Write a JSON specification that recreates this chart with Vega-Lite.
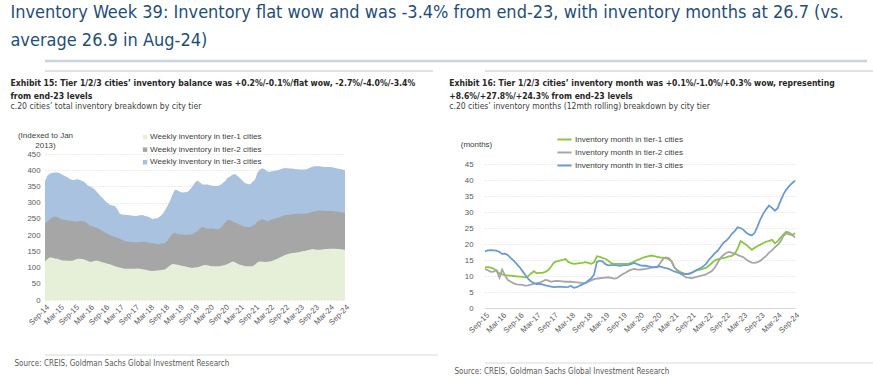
{
  "$schema": "https://vega.github.io/schema/vega-lite/v6.json",
  "padding": {"left": 10, "top": 3, "right": 0, "bottom": 0},
  "background": "white",
  "config": {
    "view": {"stroke": null},
    "font": "Liberation Sans",
    "axis": {"labelFont": "Liberation Sans", "labelFontSize": 7.8, "labelColor": "#595959", "titleFont": "Liberation Sans", "titleFontSize": 8, "titleFontWeight": "normal", "titleColor": "#404040"},
    "legend": {"labelFont": "Liberation Sans", "labelFontSize": 8.1, "labelColor": "#404040"}
  },
  "title": {
    "text": ["Inventory Week 39: Inventory flat wow and was -3.4% from end-23, with inventory months at 26.7 (vs.", "average 26.9 in Aug-24)"],
    "anchor": "start",
    "font": "Liberation Sans Narrow, DejaVu Sans Condensed, Roboto Condensed, sans-serif",
    "fontSize": 18,
    "fontWeight": "normal",
    "color": "#1f4e79",
    "lineHeight": 28,
    "offset": 10
  },
  "spacing": 7,
  "vconcat": [
    {
      "data": {"values": [{}]},
      "width": 822,
      "height": 2,
      "mark": {"type": "rule", "color": "#c8d4e0", "strokeWidth": 2.5},
      "encoding": {"y": {"datum": 1, "type": "quantitative", "scale": {"domain": [0, 1]}, "axis": null}}
    },
    {
      "spacing": 10,
      "resolve": {"scale": {"color": "independent"}, "legend": {"color": "independent"}},
      "hconcat": [
        {
          "spacing": 27,
          "resolve": {"scale": {"color": "independent"}, "legend": {"color": "independent"}},
          "vconcat": [
            {
              "spacing": 6,
              "resolve": {"scale": {"color": "independent"}, "legend": {"color": "independent"}},
              "vconcat": [
                {
                  "data": {"values": [{}]},
                  "width": 388,
                  "height": 2,
                  "mark": {"type": "rule", "color": "#c4c4c4", "strokeWidth": 1},
                  "encoding": {"y": {"datum": 1, "type": "quantitative", "scale": {"domain": [0, 1]}, "axis": null}}
                },
                {
                  "width": 300,
                  "height": 146,
                  "title": {
                    "text": ["Exhibit 15: Tier 1/2/3 cities’ inventory balance was +0.2%/-0.1%/flat wow, -2.7%/-4.0%/-3.4%", "from end-23 levels"],
                    "subtitle": "c.20 cities’ total inventory breakdown by city tier",
                    "anchor": "start",
                    "frame": "bounds",
                    "dx": -7,
                    "font": "Liberation Sans Narrow, DejaVu Sans Condensed, sans-serif",
                    "fontSize": 8.65,
                    "fontWeight": "bold",
                    "color": "#262626",
                    "lineHeight": 12.5,
                    "subtitleFont": "Liberation Sans Narrow, DejaVu Sans Condensed, sans-serif",
                    "subtitleFontSize": 8.65,
                    "subtitleColor": "#404040",
                    "subtitlePadding": 2,
                    "offset": 20
                  },
                  "data": {"values": [
{"d":"2014/09/01","a":119,"b":236,"c":366},{"d":"2014/10/01","a":126,"b":243,"c":384},{"d":"2014/11/01","a":132,"b":250,"c":390},{"d":"2014/12/01","a":130,"b":255,"c":392},
{"d":"2015/01/01","a":128,"b":257,"c":393},{"d":"2015/02/01","a":127,"b":255,"c":393},{"d":"2015/03/01","a":124,"b":251,"c":391},{"d":"2015/04/01","a":122,"b":248,"c":386},
{"d":"2015/05/01","a":122,"b":247,"c":382},{"d":"2015/06/01","a":121,"b":245,"c":378},{"d":"2015/07/01","a":121,"b":244,"c":373},{"d":"2015/08/01","a":121,"b":243,"c":370},
{"d":"2015/09/01","a":124,"b":242,"c":371},{"d":"2015/10/01","a":127,"b":242,"c":372},{"d":"2015/11/01","a":127,"b":244,"c":370},{"d":"2015/12/01","a":126,"b":243,"c":367},
{"d":"2016/01/01","a":124,"b":241,"c":362},{"d":"2016/02/01","a":121,"b":236,"c":354},{"d":"2016/03/01","a":117,"b":229,"c":350},{"d":"2016/04/01","a":119,"b":227,"c":346},
{"d":"2016/05/01","a":121,"b":224,"c":340},{"d":"2016/06/01","a":121,"b":221,"c":331},{"d":"2016/07/01","a":119,"b":218,"c":322},{"d":"2016/08/01","a":116,"b":213,"c":314},
{"d":"2016/09/01","a":114,"b":208,"c":306},{"d":"2016/10/01","a":112,"b":204,"c":299},{"d":"2016/11/01","a":110,"b":201,"c":293},{"d":"2016/12/01","a":107,"b":197,"c":291},
{"d":"2017/01/01","a":104,"b":194,"c":290},{"d":"2017/02/01","a":102,"b":192,"c":278},{"d":"2017/03/01","a":100,"b":189,"c":266},{"d":"2017/04/01","a":98,"b":185,"c":263},
{"d":"2017/05/01","a":96,"b":181,"c":263},{"d":"2017/06/01","a":96,"b":180,"c":262},{"d":"2017/07/01","a":96,"b":179,"c":261},{"d":"2017/08/01","a":96,"b":178,"c":260},
{"d":"2017/09/01","a":96,"b":178,"c":259},{"d":"2017/10/01","a":97,"b":178,"c":260},{"d":"2017/11/01","a":96,"b":178,"c":261},{"d":"2017/12/01","a":95,"b":179,"c":262},
{"d":"2018/01/01","a":94,"b":180,"c":259},{"d":"2018/02/01","a":92,"b":178,"c":257},{"d":"2018/03/01","a":90,"b":176,"c":254},{"d":"2018/04/01","a":89,"b":175,"c":250},
{"d":"2018/05/01","a":90,"b":174,"c":251},{"d":"2018/06/01","a":91,"b":172,"c":252},{"d":"2018/07/01","a":92,"b":173,"c":257},{"d":"2018/08/01","a":93,"b":174,"c":264},
{"d":"2018/09/01","a":94,"b":175,"c":277},{"d":"2018/10/01","a":100,"b":183,"c":290},{"d":"2018/11/01","a":106,"b":195,"c":305},{"d":"2018/12/01","a":111,"b":204,"c":325},
{"d":"2019/01/01","a":110,"b":207,"c":340},{"d":"2019/02/01","a":109,"b":203,"c":338},{"d":"2019/03/01","a":107,"b":202,"c":334},{"d":"2019/04/01","a":105,"b":202,"c":331},
{"d":"2019/05/01","a":104,"b":201,"c":332},{"d":"2019/06/01","a":102,"b":201,"c":333},{"d":"2019/07/01","a":100,"b":202,"c":340},{"d":"2019/08/01","a":99,"b":203,"c":350},
{"d":"2019/09/01","a":100,"b":208,"c":362},{"d":"2019/10/01","a":101,"b":213,"c":368},{"d":"2019/11/01","a":103,"b":220,"c":362},{"d":"2019/12/01","a":106,"b":226,"c":356},
{"d":"2020/01/01","a":108,"b":223,"c":356},{"d":"2020/02/01","a":107,"b":220,"c":356},{"d":"2020/03/01","a":105,"b":220,"c":354},{"d":"2020/04/01","a":104,"b":220,"c":352},
{"d":"2020/05/01","a":104,"b":219,"c":351},{"d":"2020/06/01","a":104,"b":218,"c":351},{"d":"2020/07/01","a":104,"b":220,"c":354},{"d":"2020/08/01","a":106,"b":228,"c":360},
{"d":"2020/09/01","a":108,"b":238,"c":366},{"d":"2020/10/01","a":111,"b":247,"c":376},{"d":"2020/11/01","a":115,"b":246,"c":381},{"d":"2020/12/01","a":119,"b":242,"c":386},
{"d":"2021/01/01","a":116,"b":239,"c":388},{"d":"2021/02/01","a":112,"b":235,"c":382},{"d":"2021/03/01","a":109,"b":232,"c":376},{"d":"2021/04/01","a":107,"b":228,"c":368},
{"d":"2021/05/01","a":104,"b":226,"c":361},{"d":"2021/06/01","a":104,"b":225,"c":358},{"d":"2021/07/01","a":104,"b":224,"c":356},{"d":"2021/08/01","a":104,"b":228,"c":364},
{"d":"2021/09/01","a":109,"b":232,"c":371},{"d":"2021/10/01","a":116,"b":243,"c":393},{"d":"2021/11/01","a":119,"b":246,"c":402},{"d":"2021/12/01","a":118,"b":249,"c":406},
{"d":"2022/01/01","a":117,"b":246,"c":402},{"d":"2022/02/01","a":118,"b":243,"c":396},{"d":"2022/03/01","a":119,"b":245,"c":395},{"d":"2022/04/01","a":121,"b":249,"c":397},
{"d":"2022/05/01","a":124,"b":251,"c":398},{"d":"2022/06/01","a":127,"b":253,"c":400},{"d":"2022/07/01","a":131,"b":256,"c":402},{"d":"2022/08/01","a":135,"b":259,"c":405},
{"d":"2022/09/01","a":139,"b":261,"c":407},{"d":"2022/10/01","a":141,"b":262,"c":406},{"d":"2022/11/01","a":143,"b":263,"c":405},{"d":"2022/12/01","a":145,"b":264,"c":405},
{"d":"2023/01/01","a":146,"b":265,"c":404},{"d":"2023/02/01","a":147,"b":266,"c":403},{"d":"2023/03/01","a":148,"b":266,"c":402},{"d":"2023/04/01","a":150,"b":266,"c":402},
{"d":"2023/05/01","a":151,"b":266,"c":402},{"d":"2023/06/01","a":153,"b":267,"c":404},{"d":"2023/07/01","a":155,"b":269,"c":408},{"d":"2023/08/01","a":157,"b":272,"c":411},
{"d":"2023/09/01","a":156,"b":273,"c":412},{"d":"2023/10/01","a":155,"b":275,"c":412},{"d":"2023/11/01","a":155,"b":276,"c":412},{"d":"2023/12/01","a":156,"b":275,"c":411},
{"d":"2024/01/01","a":157,"b":274,"c":410},{"d":"2024/02/01","a":157,"b":274,"c":410},{"d":"2024/03/01","a":158,"b":274,"c":410},{"d":"2024/04/01","a":158,"b":274,"c":409},
{"d":"2024/05/01","a":158,"b":273,"c":407},{"d":"2024/06/01","a":157,"b":272,"c":405},{"d":"2024/07/01","a":157,"b":271,"c":404},{"d":"2024/08/01","a":156,"b":270,"c":402},
{"d":"2024/09/01","a":155,"b":269,"c":400}
                  ]},
                  "encoding": {
                    "x": {
                      "field": "d", "type": "temporal", "title": null,
                      "scale": {"nice": false},
                      "axis": {
                        "values": [
                          {"year":2014,"month":9,"date":1},{"year":2015,"month":3,"date":1},{"year":2015,"month":9,"date":1},{"year":2016,"month":3,"date":1},
                          {"year":2016,"month":9,"date":1},{"year":2017,"month":3,"date":1},{"year":2017,"month":9,"date":1},{"year":2018,"month":3,"date":1},
                          {"year":2018,"month":9,"date":1},{"year":2019,"month":3,"date":1},{"year":2019,"month":9,"date":1},{"year":2020,"month":3,"date":1},
                          {"year":2020,"month":9,"date":1},{"year":2021,"month":3,"date":1},{"year":2021,"month":9,"date":1},{"year":2022,"month":3,"date":1},
                          {"year":2022,"month":9,"date":1},{"year":2023,"month":3,"date":1},{"year":2023,"month":9,"date":1},{"year":2024,"month":3,"date":1},
                          {"year":2024,"month":9,"date":1}
                        ],
                        "format": "%b-%y", "labelAngle": -45, "grid": false, "domain": false, "ticks": false, "labelPadding": 3, "labelOverlap": false, "labelBound": false, "labelFlush": false
                      }
                    }
                  },
                  "layer": [
                    {
                      "mark": {"type": "area", "opacity": 1},
                      "encoding": {
                        "y": {"field": "c", "type": "quantitative", "title": ["(Indexed to Jan", "2013)"],
                          "scale": {"domain": [0, 450]},
                          "axis": {"values": [0,50,100,150,200,250,300,350,400,450], "labelOverlap": false, "grid": true, "gridColor": "#d9d9d9", "gridDash": [1, 2], "domain": false, "ticks": false, "labelPadding": 5,
                            "titleAngle": 0, "titleAlign": "center", "titleBaseline": "alphabetic", "titleX": 0, "titleY": -17, "titleLineHeight": 10}},
                        "color": {"datum": "tier-3", "type": "nominal",
                          "scale": {"domain": ["tier-1", "tier-2", "tier-3"], "range": ["#e6f0d9", "#a6a6a6", "#a9c2df"]},
                          "legend": {"orient": "none", "legendX": 96, "legendY": -21, "title": null, "symbolType": "square", "symbolSize": 20, "symbolStrokeWidth": 0, "rowPadding": 3.6, "labelOffset": 1, "labelExpr": "'Weekly inventory in ' + datum.label + ' cities'"}}
                      }
                    },
                    {
                      "mark": {"type": "area", "opacity": 1},
                      "encoding": {
                        "y": {"field": "b", "type": "quantitative", "title": ["(Indexed to Jan", "2013)"],
                          "axis": {"values": [0,50,100,150,200,250,300,350,400,450], "labelOverlap": false, "grid": true, "gridColor": "#d9d9d9", "gridDash": [1, 2], "domain": false, "ticks": false, "labelPadding": 5,
                            "titleAngle": 0, "titleAlign": "center", "titleBaseline": "alphabetic", "titleX": 0, "titleY": -17, "titleLineHeight": 10}},
                        "color": {"datum": "tier-2", "type": "nominal"}
                      }
                    },
                    {
                      "mark": {"type": "area", "opacity": 1},
                      "encoding": {
                        "y": {"field": "a", "type": "quantitative", "title": ["(Indexed to Jan", "2013)"],
                          "axis": {"values": [0,50,100,150,200,250,300,350,400,450], "labelOverlap": false, "grid": true, "gridColor": "#d9d9d9", "gridDash": [1, 2], "domain": false, "ticks": false, "labelPadding": 5,
                            "titleAngle": 0, "titleAlign": "center", "titleBaseline": "alphabetic", "titleX": 0, "titleY": -17, "titleLineHeight": 10}},
                        "color": {"datum": "tier-1", "type": "nominal"}
                      }
                    }
                  ]
                }
              ]
            },
            {
              "data": {"values": [{}]},
              "width": 393,
              "height": 1,
              "mark": {"type": "rule", "color": "#d9d9d9", "strokeWidth": 1},
              "encoding": {"y": {"datum": 1, "type": "quantitative", "scale": {"domain": [0, 1]}, "axis": null}},
              "title": {"text": "Source: CREIS, Goldman Sachs Global Investment Research", "orient": "bottom", "anchor": "start", "dx": -30, "font": "Liberation Sans Narrow, DejaVu Sans Condensed, sans-serif", "fontSize": 8, "fontWeight": "normal", "color": "#595959", "offset": 4}
            }
          ]
        },
        {
          "spacing": 27,
          "resolve": {"scale": {"color": "independent"}, "legend": {"color": "independent"}},
          "vconcat": [
            {
              "spacing": 6,
              "resolve": {"scale": {"color": "independent"}, "legend": {"color": "independent"}},
              "vconcat": [
                {
                  "data": {"values": [{}]},
                  "width": 390,
                  "height": 2,
                  "mark": {"type": "rule", "color": "#c4c4c4", "strokeWidth": 1},
                  "encoding": {"y": {"datum": 1, "type": "quantitative", "scale": {"domain": [0, 1]}, "axis": null}}
                },
                {
                  "width": 310,
                  "height": 144,
                  "title": {
                    "text": ["Exhibit 16: Tier 1/2/3 cities’ inventory month was +0.1%/-1.0%/+0.3% wow, representing", "+8.6%/+27.8%/+24.3% from end-23 levels"],
                    "subtitle": "c.20 cities’ inventory months (12mth rolling) breakdown by city tier",
                    "anchor": "start",
                    "frame": "bounds",
                    "dx": -11,
                    "font": "Liberation Sans Narrow, DejaVu Sans Condensed, sans-serif",
                    "fontSize": 8.55,
                    "fontWeight": "bold",
                    "color": "#262626",
                    "lineHeight": 12.5,
                    "subtitleFont": "Liberation Sans Narrow, DejaVu Sans Condensed, sans-serif",
                    "subtitleFontSize": 8.55,
                    "subtitleColor": "#404040",
                    "subtitlePadding": 2,
                    "offset": 20
                  },
                  "data": {"values": [
{"d":"2015/09/01","t1":12.7,"t2":12.2,"t3":17.7},{"d":"2015/10/01","t1":12.8,"t2":11.8,"t3":18.0},{"d":"2015/11/01","t1":12.6,"t2":11.3,"t3":18.1},{"d":"2015/12/01","t1":12.3,"t2":11.4,"t3":18.0},
{"d":"2016/01/01","t1":11.6,"t2":11.8,"t3":17.9},{"d":"2016/02/01","t1":10.8,"t2":9.5,"t3":17.5},{"d":"2016/03/01","t1":10.5,"t2":12.0,"t3":16.9},{"d":"2016/04/01","t1":10.3,"t2":10.2,"t3":17.0},
{"d":"2016/05/01","t1":10.2,"t2":8.7,"t3":16.5},{"d":"2016/06/01","t1":10.1,"t2":8.2,"t3":15.6},{"d":"2016/07/01","t1":10.0,"t2":7.7,"t3":14.8},{"d":"2016/08/01","t1":9.9,"t2":7.4,"t3":13.8},
{"d":"2016/09/01","t1":9.8,"t2":7.3,"t3":12.8},{"d":"2016/10/01","t1":9.7,"t2":7.2,"t3":11.6},{"d":"2016/11/01","t1":9.6,"t2":7.0,"t3":10.3},{"d":"2016/12/01","t1":9.9,"t2":7.1,"t3":9.2},
{"d":"2017/01/01","t1":10.8,"t2":7.3,"t3":8.3},{"d":"2017/02/01","t1":11.5,"t2":7.6,"t3":7.8},{"d":"2017/03/01","t1":10.9,"t2":7.8,"t3":7.5},{"d":"2017/04/01","t1":11.0,"t2":7.9,"t3":7.5},
{"d":"2017/05/01","t1":11.0,"t2":8.3,"t3":7.4},{"d":"2017/06/01","t1":11.3,"t2":8.8,"t3":7.1},{"d":"2017/07/01","t1":11.8,"t2":8.6,"t3":6.9},{"d":"2017/08/01","t1":12.9,"t2":8.2,"t3":6.7},
{"d":"2017/09/01","t1":14.2,"t2":8.4,"t3":6.5},{"d":"2017/10/01","t1":14.6,"t2":8.5,"t3":6.6},{"d":"2017/11/01","t1":14.8,"t2":8.4,"t3":6.7},{"d":"2017/12/01","t1":15.0,"t2":8.3,"t3":6.6},
{"d":"2018/01/01","t1":15.3,"t2":8.2,"t3":6.5},{"d":"2018/02/01","t1":14.4,"t2":8.2,"t3":6.6},{"d":"2018/03/01","t1":14.0,"t2":8.2,"t3":6.9},{"d":"2018/04/01","t1":13.8,"t2":8.1,"t3":6.3},
{"d":"2018/05/01","t1":13.9,"t2":8.0,"t3":6.5},{"d":"2018/06/01","t1":14.0,"t2":7.9,"t3":7.0},{"d":"2018/07/01","t1":14.1,"t2":7.8,"t3":7.4},{"d":"2018/08/01","t1":14.3,"t2":7.8,"t3":7.8},
{"d":"2018/09/01","t1":14.1,"t2":8.2,"t3":8.6},{"d":"2018/10/01","t1":13.8,"t2":8.6,"t3":9.2},{"d":"2018/11/01","t1":14.3,"t2":9.0,"t3":10.5},{"d":"2018/12/01","t1":16.2,"t2":9.2,"t3":14.4},
{"d":"2019/01/01","t1":16.0,"t2":9.3,"t3":14.8},{"d":"2019/02/01","t1":15.6,"t2":9.4,"t3":14.5},{"d":"2019/03/01","t1":15.4,"t2":9.5,"t3":13.7},{"d":"2019/04/01","t1":14.8,"t2":9.6,"t3":13.3},
{"d":"2019/05/01","t1":14.0,"t2":9.4,"t3":13.4},{"d":"2019/06/01","t1":13.8,"t2":9.2,"t3":13.4},{"d":"2019/07/01","t1":13.8,"t2":9.3,"t3":13.3},{"d":"2019/08/01","t1":13.8,"t2":10.0,"t3":13.2},
{"d":"2019/09/01","t1":13.8,"t2":10.6,"t3":13.3},{"d":"2019/10/01","t1":13.8,"t2":11.0,"t3":13.4},{"d":"2019/11/01","t1":13.9,"t2":11.6,"t3":13.5},{"d":"2019/12/01","t1":14.1,"t2":12.0,"t3":13.8},
{"d":"2020/01/01","t1":14.5,"t2":12.2,"t3":14.1},{"d":"2020/02/01","t1":15.0,"t2":12.0,"t3":13.7},{"d":"2020/03/01","t1":15.3,"t2":12.0,"t3":13.4},{"d":"2020/04/01","t1":15.7,"t2":12.1,"t3":13.2},
{"d":"2020/05/01","t1":16.0,"t2":12.2,"t3":13.2},{"d":"2020/06/01","t1":16.2,"t2":12.4,"t3":13.0},{"d":"2020/07/01","t1":16.4,"t2":12.6,"t3":12.8},{"d":"2020/08/01","t1":16.2,"t2":12.7,"t3":12.8},
{"d":"2020/09/01","t1":16.0,"t2":12.7,"t3":12.9},{"d":"2020/10/01","t1":15.8,"t2":14.0,"t3":13.0},{"d":"2020/11/01","t1":15.7,"t2":15.3,"t3":12.7},{"d":"2020/12/01","t1":15.6,"t2":15.8,"t3":12.5},
{"d":"2021/01/01","t1":15.3,"t2":15.6,"t3":12.2},{"d":"2021/02/01","t1":14.5,"t2":14.6,"t3":11.8},{"d":"2021/03/01","t1":12.7,"t2":12.7,"t3":11.4},{"d":"2021/04/01","t1":11.9,"t2":11.7,"t3":11.1},
{"d":"2021/05/01","t1":11.3,"t2":10.8,"t3":10.9},{"d":"2021/06/01","t1":10.9,"t2":10.2,"t3":10.7},{"d":"2021/07/01","t1":10.6,"t2":9.6,"t3":10.6},{"d":"2021/08/01","t1":10.7,"t2":9.5,"t3":10.7},
{"d":"2021/09/01","t1":11.0,"t2":9.3,"t3":11.0},{"d":"2021/10/01","t1":11.5,"t2":9.6,"t3":11.5},{"d":"2021/11/01","t1":11.8,"t2":9.8,"t3":12.0},{"d":"2021/12/01","t1":12.0,"t2":10.0,"t3":12.4},
{"d":"2022/01/01","t1":12.3,"t2":10.3,"t3":13.0},{"d":"2022/02/01","t1":12.5,"t2":10.5,"t3":13.8},{"d":"2022/03/01","t1":13.2,"t2":11.0,"t3":15.0},{"d":"2022/04/01","t1":14.0,"t2":11.5,"t3":16.0},
{"d":"2022/05/01","t1":14.8,"t2":12.5,"t3":17.0},{"d":"2022/06/01","t1":15.2,"t2":14.0,"t3":17.8},{"d":"2022/07/01","t1":15.4,"t2":15.5,"t3":19.0},{"d":"2022/08/01","t1":15.6,"t2":16.5,"t3":20.3},
{"d":"2022/09/01","t1":15.8,"t2":17.2,"t3":21.0},{"d":"2022/10/01","t1":16.1,"t2":17.5,"t3":21.9},{"d":"2022/11/01","t1":16.3,"t2":17.3,"t3":23.2},{"d":"2022/12/01","t1":16.9,"t2":17.0,"t3":24.0},
{"d":"2023/01/01","t1":18.5,"t2":16.6,"t3":25.2},{"d":"2023/02/01","t1":20.9,"t2":16.2,"t3":25.0},{"d":"2023/03/01","t1":20.4,"t2":15.9,"t3":24.5},{"d":"2023/04/01","t1":19.8,"t2":15.2,"t3":23.6},
{"d":"2023/05/01","t1":19.0,"t2":14.6,"t3":23.0},{"d":"2023/06/01","t1":18.2,"t2":14.2,"t3":22.7},{"d":"2023/07/01","t1":18.8,"t2":14.1,"t3":23.5},{"d":"2023/08/01","t1":19.4,"t2":14.3,"t3":25.5},
{"d":"2023/09/01","t1":19.8,"t2":14.8,"t3":27.8},{"d":"2023/10/01","t1":20.3,"t2":15.6,"t3":29.5},{"d":"2023/11/01","t1":20.7,"t2":16.3,"t3":30.9},{"d":"2023/12/01","t1":21.0,"t2":17.3,"t3":32.0},
{"d":"2024/01/01","t1":21.3,"t2":18.0,"t3":31.3},{"d":"2024/02/01","t1":20.2,"t2":19.0,"t3":30.4},{"d":"2024/03/01","t1":20.9,"t2":19.7,"t3":31.2},{"d":"2024/04/01","t1":22.0,"t2":20.8,"t3":33.5},
{"d":"2024/05/01","t1":23.0,"t2":22.5,"t3":35.5},{"d":"2024/06/01","t1":23.8,"t2":23.3,"t3":37.0},{"d":"2024/07/01","t1":23.6,"t2":23.0,"t3":38.1},{"d":"2024/08/01","t1":22.9,"t2":22.8,"t3":39.0},
{"d":"2024/09/01","t1":23.3,"t2":22.1,"t3":39.8}
                  ]},
                  "transform": [{"fold": ["t1", "t2", "t3"], "as": ["s", "v"]}],
                  "mark": {"type": "line", "strokeWidth": 1.8},
                  "encoding": {
                    "x": {
                      "field": "d", "type": "temporal", "title": null,
                      "scale": {"nice": false},
                      "axis": {
                        "values": [
                          {"year":2015,"month":9,"date":1},{"year":2016,"month":3,"date":1},
                          {"year":2016,"month":9,"date":1},{"year":2017,"month":3,"date":1},{"year":2017,"month":9,"date":1},{"year":2018,"month":3,"date":1},
                          {"year":2018,"month":9,"date":1},{"year":2019,"month":3,"date":1},{"year":2019,"month":9,"date":1},{"year":2020,"month":3,"date":1},
                          {"year":2020,"month":9,"date":1},{"year":2021,"month":3,"date":1},{"year":2021,"month":9,"date":1},{"year":2022,"month":3,"date":1},
                          {"year":2022,"month":9,"date":1},{"year":2023,"month":3,"date":1},{"year":2023,"month":9,"date":1},{"year":2024,"month":3,"date":1},
                          {"year":2024,"month":9,"date":1}
                        ],
                        "format": "%b-%y", "labelAngle": -45, "grid": false, "domain": true, "domainColor": "#d9d9d9", "ticks": false, "labelPadding": 3, "labelOverlap": false, "labelBound": false, "labelFlush": false
                      }
                    },
                    "y": {"field": "v", "type": "quantitative", "title": "(months)",
                      "scale": {"domain": [0, 45]},
                      "axis": {"values": [0,5,10,15,20,25,30,35,40,45], "grid": true, "gridColor": "#d9d9d9", "gridDash": [1, 2], "domain": false, "ticks": false, "labelPadding": 12,
                        "titleAngle": 0, "titleAlign": "center", "titleBaseline": "alphabetic", "titleX": -9, "titleY": -18}},
                    "color": {"field": "s", "type": "nominal",
                      "scale": {"domain": ["t1", "t2", "t3"], "range": ["#8cc63f", "#a6a6a6", "#6b9bd2"]},
                      "legend": {"orient": "none", "legendX": 71, "legendY": -33, "title": null, "symbolType": "stroke", "symbolSize": 200, "symbolStrokeWidth": 2, "rowPadding": -1, "labelOffset": 2, "labelExpr": "'Inventory month in tier-' + slice(datum.label, 1) + ' cities'"}}
                  }
                }
              ]
            },
            {
              "data": {"values": [{}]},
              "width": 390,
              "height": 1,
              "mark": {"type": "rule", "color": "#d9d9d9", "strokeWidth": 1},
              "encoding": {"y": {"datum": 1, "type": "quantitative", "scale": {"domain": [0, 1]}, "axis": null}},
              "title": {"text": "Source: CREIS, Goldman Sachs Global Investment Research", "orient": "bottom", "anchor": "start", "dx": -30, "font": "Liberation Sans Narrow, DejaVu Sans Condensed, sans-serif", "fontSize": 8, "fontWeight": "normal", "color": "#595959", "offset": 4}
            }
          ]
        }
      ]
    }
  ]
}
